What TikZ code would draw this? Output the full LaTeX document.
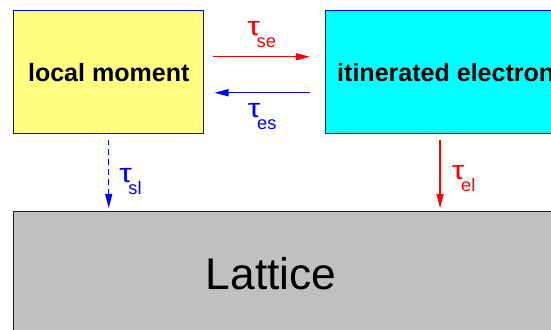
\documentclass[tikz,border=0pt]{standalone}
\usepackage{fontspec}
\setmainfont{Liberation Sans}
\usepackage{graphicx}
\usetikzlibrary{positioning, arrows.meta}
\definecolor{paleyellow}{RGB}{255,255,128}
\definecolor{brightcyan}{RGB}{0,255,255}
\definecolor{latticegray}{RGB}{192,192,192}
\definecolor{edgeblue}{RGB}{0,0,255}
\definecolor{ratered}{RGB}{255,0,0}
\newcommand{\rate}[1]{{\fontsize{19}{20}\selectfont\scalebox{1.2}[1]{τ}}\kern-2.5pt\raisebox{-8.5pt}{\fontsize{13}{14}\selectfont #1}}

\begin{document}
\begin{tikzpicture}[x=0.025cm, y=-0.025cm, >={Triangle[length=10pt,width=5pt]},
    box/.style={draw=edgeblue, line width=1pt, anchor=north west, inner sep=0pt,
                font=\fontsize{17.8}{20}\selectfont\bfseries},
    ratelabel/.style={inner sep=2pt}]
  \clip (0,0) rectangle (551,329);
  \node[box, fill=paleyellow, minimum width=4.75cm, minimum height=3.075cm]
       (moment) at (13,10) {local moment};
  \node[box, fill=brightcyan, minimum width=6cm, minimum height=3.075cm]
       (electron) at (325,10) {itinerated electron};
  \node[box, fill=latticegray, minimum width=14cm, minimum height=4cm]
       (lattice) at (13,211) {};
  \node[font=\fontsize{31.5}{34}\selectfont] (latticetext) at (271,274) {Lattice};

  % exchange between the spins and the electrons
  \draw[->, ratered, line width=1pt] ([xshift=6.4pt,yshift=11pt]moment.east)
       -- ([xshift=-10.7pt,yshift=11pt]electron.west)
       node[midway, above=4pt, ratelabel] (tse) {\rate{se}};
  \draw[->, edgeblue, line width=1pt] ([xshift=-10.7pt,yshift=-14.6pt]electron.west)
       -- ([xshift=7.1pt,yshift=-14.6pt]moment.east)
       node[midway, below=5pt, ratelabel] (tes) {\rate{es}};

  % relaxation into the lattice
  \draw[->, edgeblue, line width=1pt, dash pattern=on 4pt off 3pt]
       ([yshift=-3.6pt]moment.south) -- ([yshift=2.1pt]moment.south |- lattice.north)
       node[pos=0.62, right=5pt, ratelabel] (tsl) {\rate{sl}};
  \coordinate (elfoot) at ([xshift=81.8pt,yshift=-3.6pt]electron.south west);
  \draw[->, ratered, line width=1pt] (elfoot) -- ([yshift=2.1pt]elfoot |- lattice.north)
       node[pos=0.57, right=6pt, ratelabel] (tel) {\rate{el}};
\end{tikzpicture}
\end{document}
